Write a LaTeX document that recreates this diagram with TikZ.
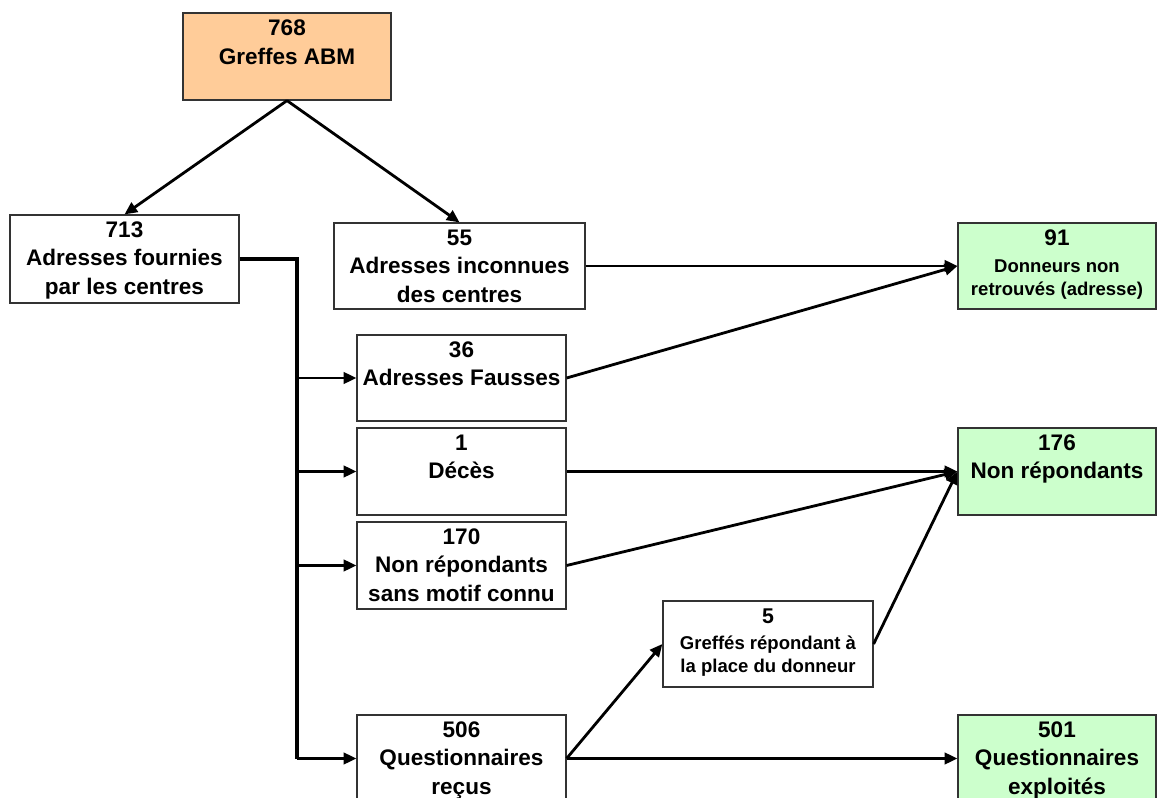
\documentclass[tikz,border=0pt]{standalone}
\usepackage{fontspec}
\setmainfont{Liberation Sans}
\usetikzlibrary{arrows.meta,fit}
\definecolor{orangefill}{HTML}{FFCC99}
\definecolor{greenfill}{HTML}{CCFFCC}
\begin{document}
\begin{tikzpicture}[x=0.75pt,y=-0.75pt,
  box/.style={draw=black!80, line width=0.9pt, inner sep=0pt, rectangle},
  obox/.style={box, fill=orangefill},
  gbox/.style={box, fill=greenfill},
  big/.style={font=\bfseries\fontsize{16.9pt}{21.4pt}\selectfont, align=center, inner sep=0pt, anchor=north},
  small/.style={font=\bfseries\fontsize{13.9pt}{17.5pt}\selectfont, align=center, inner sep=0pt, anchor=north},
  arr/.style={line width=2.1pt, -{Triangle[length=9.5pt,width=8.5pt]}},
  bus/.style={line width=2.4pt},
]
\useasboundingbox (0,0) rectangle (1157,798);

% boxes
\node[obox, fit={(183,13) (391,100)}] (b768) {};
\node[box, fit={(10,215) (239,303)}] (b713) {};
\node[box, fit={(334,223) (585,309)}] (b55) {};
\node[gbox, fit={(958,223) (1156,309)}] (b91) {};
\node[box, fit={(357,335) (566,421)}] (b36) {};
\node[box, fit={(357,428) (566,515)}] (b1) {};
\node[box, fit={(357,522) (566,609)}] (b170) {};
\node[box, fit={(357,715) (566,802)}] (b506) {};
\node[box, fit={(663,601) (873,687)}] (b5) {};
\node[gbox, fit={(958,428) (1156,515)}] (b176) {};
\node[gbox, fit={(958,715) (1156,802)}] (b501) {};

% texts
\node[big] (t768) at ([yshift=-5.5pt]b768.north) {768\\Greffes ABM};
\node[big] (t713) at ([yshift=-5.2pt]b713.north) {713\\Adresses fournies\\par les centres};
\node[big] (t55) at ([yshift=-5.2pt]b55.north) {55\\Adresses inconnues\\des centres};
\node[small] (t91) at ([yshift=-5.5pt]b91.north) {{\fontsize{16.9pt}{21.4pt}\selectfont 91}\\[2.5pt]Donneurs non\\retrouvés (adresse)};
\node[big] (t36) at ([yshift=-5.2pt]b36.north) {36\\Adresses Fausses};
\node[big] (t1) at ([yshift=-5.2pt]b1.north) {1\\Décès};
\node[big] (t170) at ([yshift=-5.2pt]b170.north) {170\\Non répondants\\sans motif connu};
\node[big] (t506) at ([yshift=-5.2pt]b506.north) {506\\Questionnaires\\reçus};
\node[small] (t5) at ([yshift=-6pt]b5.north) {{\fontsize{16pt}{18pt}\selectfont 5}\\[2pt]Greffés répondant à\\la place du donneur};
\node[big] (t176) at ([yshift=-5.2pt]b176.north) {176\\Non répondants};
\node[big] (t501) at ([yshift=-5.2pt]b501.north) {501\\Questionnaires\\exploités};

% connectors
\draw[arr] (b768.south) -- (b713.north);
\draw[arr] (b768.south) -- (b55.north);

\coordinate (trunk) at (297,300);
\draw[bus] (b713.east) -| (b506.west -| trunk);
\draw[arr] (b506.west -| trunk) -- (b506.west);
\draw[arr] (b36.west -| trunk) -- (b36.west);
\draw[arr] (b1.west -| trunk) -- (b1.west);
\draw[arr] (b170.west -| trunk) -- (b170.west);

\draw[arr] (b55.east) -- (b91.west);
\draw[arr] (b36.east) -- (b91.west);
\draw[arr] (b1.east) -- (b176.west);
\draw[arr] (b170.east) -- (b176.west);
\draw[arr] (b5.east) -- (b176.west);
\draw[arr] (b506.east) -- (b5.west);
\draw[arr] (b506.east) -- (b501.west);
\end{tikzpicture}
\end{document}
